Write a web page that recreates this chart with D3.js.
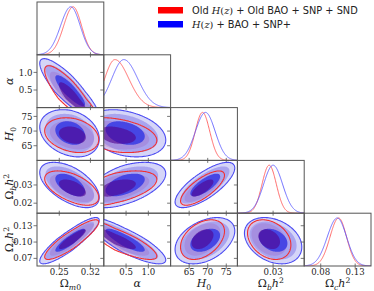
<!DOCTYPE html>
<html><head><meta charset="utf-8">
<script src="https://cdn.jsdelivr.net/npm/d3@7"></script>
<style>body{margin:0;background:#fff} svg{display:block}</style>
</head><body>
<svg id="c" width="374" height="291"></svg>
<script>
// ---------- data ----------
const params = ["Om", "alpha", "H0", "Obh2", "Och2"];
const ranges = [[0.2, 0.35], [0, 1.5], [60, 78], [0.0145, 0.0435], [0.056, 0.153]];
const xTicks = [[0.25, 0.32], [0.5, 1.0], [65, 70, 75], [0.03], [0.08, 0.13]];
const xTickLabels = [["0.25", "0.32"], ["0.5", "1.0"], ["65", "70", "75"], ["0.03"], ["0.08", "0.13"]];
const yTicks = [[], [0.5, 1.0], [65, 70, 75], [0.02, 0.03], [0.07, 0.10, 0.13]];
const yTickLabels = [[], ["0.5", "1.0"], ["65", "70", "75"], ["0.02", "0.03"], ["0.07", "0.10", "0.13"]];

// "Old H(z) + Old BAO + SNP + SND" (red)
const meanOld = [0.281, 0.25, 68.6, 0.0283, 0.106];
const sigLoOld = [0.021, 0.23, 1.95, 0.0031, 0.0125];
const sigHiOld = [0.019, 0.31, 1.95, 0.0031, 0.0115];
// "H(z) + BAO + SNP+" (blue)
const meanNew = [0.276, 0.45, 69.4, 0.0300, 0.104];
const sigLoNew = [0.023, 0.27, 2.7, 0.0041, 0.0145];
const sigHiNew = [0.021, 0.31, 2.6, 0.0041, 0.0135];

const corrOld = [
  [1, -0.86, -0.25, -0.55, 0.88],
  [-0.86, 1, -0.30, 0.50, -0.84],
  [-0.25, -0.30, 1, 0.75, 0.40],
  [-0.55, 0.50, 0.75, 1, -0.30],
  [0.88, -0.84, 0.40, -0.30, 1]
];
const corrNew = [
  [1, -0.86, -0.25, -0.55, 0.88],
  [-0.86, 1, -0.30, 0.50, -0.84],
  [-0.25, -0.30, 1, 0.75, 0.40],
  [-0.55, 0.50, 0.75, 1, -0.30],
  [0.88, -0.84, 0.40, -0.30, 1]
];
const levelsQ = [9.21, 6.18, 2.30]; // 99%, 95%, 68% (2D chi2)

// ---------- layout / style ----------
const L = 37, T = 2, PW = 66.8, PH = 52.8, N = 5;
const frameCol = "#555";
const blueFill = ["#d5d5f8", "#a9a4ef", "#4646e4"];
const redFill = ["rgba(200,60,140,0.13)", "rgba(150,40,150,0.16)", "rgba(80,0,140,0.6)"];
const blueLine = "#4c4cf2", redLine = "#f23030";
const serif = "'DejaVu Serif', serif";

const svg = d3.select("#c");
const xs = ranges.map((r, i) => d3.scaleLinear(r, [L + i * PW, L + (i + 1) * PW]));
const ys = ranges.map((r, j) => d3.scaleLinear(r, [T + (j + 1) * PH, T + j * PH]));

const sets = [
  {mean: meanNew, lo: sigLoNew, hi: sigHiNew, corr: corrNew},
  {mean: meanOld, lo: sigLoOld, hi: sigHiOld, corr: corrOld}
];
function std(s, p, x) { const d = x - s.mean[p]; return d / (d < 0 ? s.lo[p] : s.hi[p]); }
function dens2(s, pi, pj, x, y) {
  const u = std(s, pi, x), v = std(s, pj, y), r = s.corr[pi][pj];
  return Math.exp(-(u * u - 2 * r * u * v + v * v) / (2 * (1 - r * r)));
}
const thr = levelsQ.map(q => Math.exp(-q / 2));

const defs = svg.append("defs");

for (let j = 0; j < N; j++) {
  for (let i = 0; i <= j; i++) {
    const x0 = L + i * PW, y0 = T + j * PH;
    const id = "cl" + i + "_" + j;
    defs.append("clipPath").attr("id", id).append("rect")
      .attr("x", x0).attr("y", y0).attr("width", PW).attr("height", PH);
    const g = svg.append("g").attr("clip-path", `url(#${id})`);
    if (i === j) {
      const yd = d3.scaleLinear([0, 1.1], [y0 + PH, y0]);
      const xsamp = d3.range(0, 201).map(k => ranges[i][0] + k / 200 * (ranges[i][1] - ranges[i][0]));
      [[sets[1], "#ff5555"], [sets[0], "#5a5aff"]].forEach(([s, c]) => {
        const line = d3.line().x(x => xs[i](x)).y(x => { const u = std(s, i, x); return yd(Math.exp(-u * u / 2)); });
        g.append("path").attr("d", line(xsamp)).attr("fill", "none")
          .attr("stroke", c).attr("stroke-width", 1).attr("opacity", 0.85);
      });
    } else {
      const nx = 110, ny = 100;
      const ex = [ranges[i][0] - 0.15 * (ranges[i][1] - ranges[i][0]), ranges[i][1] + 0.15 * (ranges[i][1] - ranges[i][0])];
      const ey = [ranges[j][0] - 0.15 * (ranges[j][1] - ranges[j][0]), ranges[j][1] + 0.15 * (ranges[j][1] - ranges[j][0])];
      const proj = d3.geoTransform({
        point(px, py) {
          this.stream.point(xs[i](ex[0] + px / nx * (ex[1] - ex[0])), ys[j](ey[0] + py / ny * (ey[1] - ey[0])));
        }
      });
      const path = d3.geoPath(proj);
      const conts = sets.map(s => {
        const vals = new Float64Array(nx * ny);
        for (let iy = 0; iy < ny; iy++) for (let ix = 0; ix < nx; ix++) {
          const x = ex[0] + (ix + 0.5) / nx * (ex[1] - ex[0]);
          const y = ey[0] + (iy + 0.5) / ny * (ey[1] - ey[0]);
          vals[iy * nx + ix] = dens2(s, i, j, x, y);
        }
        return d3.contours().size([nx, ny]).thresholds(thr)(vals);
      });
      for (let l = 0; l < 3; l++) {
        g.append("path").attr("d", path(conts[0][l])).attr("fill", blueFill[l]);
        g.append("path").attr("d", path(conts[1][l])).attr("fill", redFill[l]);
      }
      g.append("path").attr("d", path(conts[0][0])).attr("fill", "none").attr("stroke", blueLine).attr("stroke-width", 1.1);
      g.append("path").attr("d", path(conts[1][0])).attr("fill", "none").attr("stroke", redLine).attr("stroke-width", 1.1);
    }
    // frame
    svg.append("rect").attr("x", x0).attr("y", y0).attr("width", PW).attr("height", PH)
      .attr("fill", "none").attr("stroke", frameCol).attr("stroke-width", 1);
    // ticks
    xTicks[i].forEach(t => {
      svg.append("line").attr("x1", xs[i](t)).attr("x2", xs[i](t))
        .attr("y1", y0 + PH - 2.5).attr("y2", y0 + PH + 2.5).attr("stroke", frameCol).attr("stroke-width", 0.8);
    });
    yTicks[j].forEach(t => {
      svg.append("line").attr("x1", x0 - 3.5).attr("x2", x0)
        .attr("y1", ys[j](t)).attr("y2", ys[j](t)).attr("stroke", frameCol).attr("stroke-width", 0.8);
    });
  }
}

// tick labels
const tickFs = 8.6;
for (let i = 0; i < N; i++) {
  xTicks[i].forEach((t, k) => {
    svg.append("text").attr("x", xs[i](t)).attr("y", T + N * PH + 9.3)
      .attr("text-anchor", "middle").attr("font-family", serif).attr("font-size", tickFs)
      .attr("fill", "#222").text(xTickLabels[i][k]);
  });
}
for (let j = 1; j < N; j++) {
  yTicks[j].forEach((t, k) => {
    svg.append("text").attr("x", L - 4.5).attr("y", ys[j](t) + 3.1)
      .attr("text-anchor", "end").attr("font-family", serif).attr("font-size", tickFs)
      .attr("fill", "#222").text(yTickLabels[j][k]);
  });
}

// axis labels
const labelParts = {
  Om: [{t: "Ω"}, {t: "m", it: 1, sub: 1}, {t: "0", sub: 1}],
  alpha: [{t: "α", it: 1}],
  H0: [{t: "H", it: 1}, {t: "0", sub: 1}],
  Obh2: [{t: "Ω"}, {t: "b", it: 1, sub: 1}, {t: "h", it: 1}, {t: "2", sup: 1}],
  Och2: [{t: "Ω"}, {t: "c", it: 1, sub: 1}, {t: "h", it: 1}, {t: "2", sup: 1}]
};
function writeLabel(sel, parts, fs) {
  let cur = 0;
  parts.forEach(p => {
    const target = p.sub ? fs * 0.28 : (p.sup ? -fs * 0.33 : 0);
    const small = p.sub || p.sup;
    sel.append("tspan").attr("dy", target - cur)
      .attr("font-size", small ? fs * 0.7 : fs)
      .attr("font-style", p.it ? "italic" : "normal").text(p.t);
    cur = target;
  });
}
const labFs = 11;
for (let i = 0; i < N; i++) {
  const t = svg.append("text").attr("x", xs[i]((ranges[i][0] + ranges[i][1]) / 2)).attr("y", T + N * PH + 20.5)
    .attr("text-anchor", "middle").attr("font-family", serif).attr("fill", "#222");
  writeLabel(t, labelParts[params[i]], labFs);
}
for (let j = 1; j < N; j++) {
  const cy = T + j * PH + PH / 2;
  const t = svg.append("text").attr("transform", `translate(13,${cy}) rotate(-90)`)
    .attr("text-anchor", "middle").attr("font-family", serif).attr("fill", "#222");
  writeLabel(t, labelParts[params[j]], labFs);
}

// legend
const legCols = ["#ff0000", "#0000ff"];
const legParts = [
  [{t: "Old ", s: 1}, {t: "H", it: 1}, {t: "("}, {t: "z", it: 1}, {t: ")"}, {t: " + Old BAO + SNP + SND", s: 1}],
  [{t: "H", it: 1}, {t: "("}, {t: "z", it: 1}, {t: ")"}, {t: " + BAO + SNP+", s: 1}]
];
legCols.forEach((c, k) => {
  svg.append("rect").attr("x", 158).attr("y", 7 + k * 14).attr("width", 25).attr("height", 6.5).attr("fill", c);
  const t = svg.append("text").attr("x", 192).attr("y", 13.5 + k * 14).attr("font-size", 9.8).attr("fill", "#222");
  legParts[k].forEach(p => {
    t.append("tspan").attr("font-family", p.s ? "'DejaVu Sans', sans-serif" : serif)
      .attr("font-style", p.it ? "italic" : "normal").text(p.t);
  });
});
</script>
</body></html>
